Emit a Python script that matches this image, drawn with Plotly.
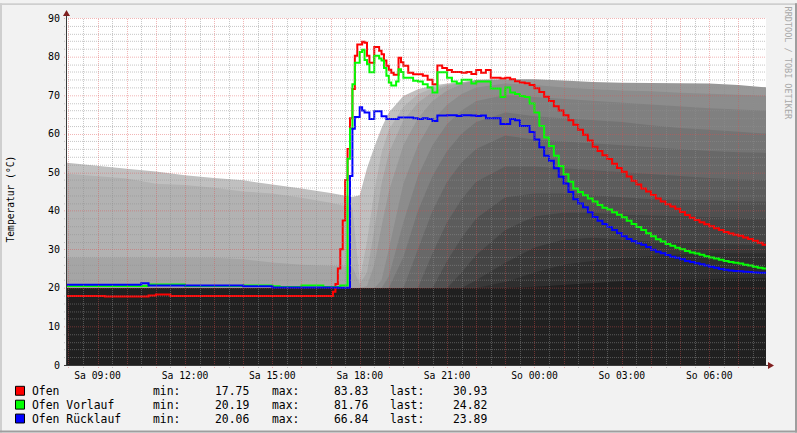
import plotly.graph_objects as go

FONT = "DejaVu Sans Mono"

# ---------------- data ----------------
x_range = [7.95, 31.95]                      # hours since Sa 00:00
tick_hours = [9, 12, 15, 18, 21, 24, 27, 30]
tick_labels = ["Sa 09:00", "Sa 12:00", "Sa 15:00", "Sa 18:00",
               "Sa 21:00", "So 00:00", "So 03:00", "So 06:00"]
y_ticks = [0, 10, 20, 30, 40, 50, 60, 70, 80, 90]

# time axis of the three measured lines (15 min, then 5 min, then 10 min)
line_hours = ([7.75 + 0.25 * i for i in range(37)] +
              [17.0 + i / 12 for i in range(30)] +
              [19.5 + i / 6 for i in range(76)])

ofen_day = [17.9, 17.9, 17.9, 17.9, 17.9, 17.9, 17.75, 17.75, 17.75, 17.75, 17.75, 17.75,
            18.0, 18.3, 18.3, 17.9, 17.9, 17.9, 17.9, 17.9, 17.9, 17.9, 17.9, 17.9, 17.9,
            17.9, 17.9, 17.9, 17.9, 17.9, 17.9, 17.9, 17.9, 17.9, 17.9, 17.9, 17.9]
ofen_heat = [17.9, 19.0, 21.0, 25.0, 30.0, 37.5, 48.0, 56.0, 64.0, 71.6, 80.2, 83.1, 83.1,
             83.83, 83.6, 80.2, 78.4, 78.4, 82.5, 82.5, 81.5, 80.6, 79.0, 77.6, 76.6, 75.8,
             75.3, 75.3, 79.7, 78.5]
ofen_night = [77.6, 75.8, 75.4, 75.4, 75.0, 74.0, 72.8, 77.7, 77.0, 76.5, 76.0, 76.0, 75.8,
              76.0, 75.5, 76.5, 75.8, 76.5, 74.5, 74.5, 74.3, 74.5, 74.1, 73.6, 73.3, 73.1,
              72.6, 71.8, 70.8, 69.6, 68.5, 67.1, 66.0, 64.8, 63.5, 62.3, 61.0, 59.7, 58.2,
              56.6, 55.5, 54.4, 53.4, 52.2, 51.1, 50.1, 48.9, 47.8, 46.8, 45.8, 45.0, 44.1,
              43.2, 42.4, 41.7, 41.1, 40.5, 39.7, 38.9, 38.2, 37.6, 37.0, 36.5, 36.0, 35.5,
              35.0, 34.5, 34.1, 33.8, 33.5, 33.1, 32.7, 32.2, 31.7, 31.2, 30.93]

vorlauf_day = [20.5, 20.5, 20.5, 20.5, 20.5, 20.5, 20.5, 20.5, 20.5, 20.5, 20.5, 20.5,
               20.9, 20.9, 20.9, 20.9, 20.9, 20.5, 20.5, 20.5, 20.5, 20.5, 20.5, 20.5, 20.5,
               20.6, 20.6, 20.6, 20.6, 20.4, 20.2, 20.2, 20.2, 20.6, 20.6, 20.6, 20.2]
vorlauf_heat = [20.2, 20.2, 20.2, 20.2, 20.6, 20.6, 20.6, 53.5, 61.3, 72.8, 78.4, 78.4, 81.2,
                81.76, 79.1, 78.0, 75.9, 75.9, 80.2, 80.2, 79.5, 79.0, 77.0, 75.0, 73.3, 72.5,
                72.5, 73.5, 76.7, 76.0]
vorlauf_night = [74.5, 74.5, 73.7, 73.5, 72.8, 72.0, 70.7, 75.9, 75.9, 74.5, 73.5, 73.0, 74.0,
                 74.0, 73.0, 73.5, 73.5, 73.5, 71.7, 71.7, 69.5, 72.0, 70.7, 70.3, 69.8, 69.5,
                 67.8, 65.5, 62.0, 59.0, 56.8, 54.3, 51.6, 49.5, 47.5, 45.8, 44.9, 44.0, 43.2,
                 42.4, 41.5, 40.8, 40.3, 39.6, 39.0, 38.3, 37.4, 36.6, 35.8, 35.0, 34.2, 33.4,
                 32.6, 32.0, 31.4, 30.9, 30.4, 30.0, 29.6, 29.2, 28.9, 28.6, 28.2, 27.9, 27.6,
                 27.3, 27.0, 26.7, 26.5, 26.3, 26.0, 25.8, 25.5, 25.2, 25.0, 24.82]

ruecklauf_day = [20.8, 20.8, 20.8, 20.8, 20.8, 20.8, 20.8, 20.8, 20.8, 20.8, 20.8, 21.2,
                 20.6, 20.6, 20.6, 20.6, 20.6, 20.6, 20.6, 20.6, 20.6, 20.6, 20.6, 20.6, 20.6,
                 20.4, 20.4, 20.4, 20.4, 20.1, 20.1, 20.1, 20.1, 20.1, 20.1, 20.1, 20.1]
ruecklauf_heat = [20.1, 20.1, 20.1, 20.06, 20.06, 20.06, 20.06, 20.06, 49.0, 61.3, 64.3, 64.3,
                  66.84, 66.0, 65.5, 65.5, 63.8, 63.8, 65.8, 65.8, 65.8, 64.5, 64.5, 63.8, 63.8,
                  63.8, 63.8, 63.8, 64.2, 64.2]
ruecklauf_night = [64.2, 64.2, 64.0, 63.8, 64.0, 63.8, 63.3, 64.7, 64.7, 64.8, 64.8, 64.6, 64.8,
                   64.8, 64.7, 64.6, 64.7, 64.0, 64.0, 64.0, 62.5, 62.5, 63.8, 63.5, 62.0, 62.0,
                   60.4, 58.5, 56.5, 54.3, 53.0, 51.0, 48.8, 47.1, 44.9, 43.0, 41.9, 40.9, 39.6,
                   38.4, 37.4, 36.6, 35.8, 35.0, 34.2, 33.4, 32.7, 32.1, 31.6, 31.2, 30.6, 29.9,
                   29.4, 29.0, 28.5, 28.1, 27.8, 27.4, 27.0, 26.7, 26.4, 26.1, 25.8, 25.5, 25.2,
                   24.9, 24.7, 24.5, 24.4, 24.3, 24.2, 24.1, 24.0, 23.95, 23.9, 23.89]

# buffer tank layers (drawn light -> dark, each filled down to zero)
tank_hours = [7.75, 9, 10, 11, 12, 13, 14, 15, 16, 17, 17.5, 17.75, 18.0, 18.25, 18.5, 18.75,
              19.0, 19.5, 20, 20.5, 21, 21.5, 22, 23, 24, 25, 26, 27, 28, 29, 30, 31, 32]
tank_colors = ["#c0c0c0", "#b2b2b2", "#a5a5a5", "#989898", "#8c8c8c", "#808080", "#747474",
               "#686868", "#5c5c5c", "#505050", "#444444", "#383838", "#2e2e2e", "#202020"]
tank_1 = [52.6, 51.6, 50.9, 50.2, 49.2, 48.5, 47.9, 46.8, 45.8, 44.6, 43.9, 43.6, 44.0, 51.0,
          56.5, 61.5, 65.5, 69.8, 71.5, 72.5, 73.0, 73.4, 73.8, 73.6, 73.6, 73.4, 73.0, 72.8,
          72.6, 72.6, 72.6, 72.2, 71.7]
tank_2 = [49.7, 48.9, 48.4, 47.0, 46.7, 46.0, 45.0, 44.5, 43.4, 42.1, 41.3, 40.8, 22.0, 32.0,
          45.0, 55.0, 61.0, 67.0, 70.2, 71.8, 72.8, 73.3, 73.8, 73.6, 73.6, 73.4, 73.0, 72.8,
          72.6, 72.6, 72.6, 72.2, 71.7]
tank_3 = [27.8, 27.8, 27.8, 27.8, 27.8, 27.8, 27.4, 26.6, 26.0, 25.7, 25.6, 25.5, 21.0, 24.0,
          35.0, 47.0, 55.0, 63.5, 68.0, 70.8, 72.4, 73.2, 73.8, 73.6, 73.6, 73.4, 73.0, 72.8,
          72.6, 72.6, 72.6, 72.2, 71.7]
tank_4 = [20.0, 20.0, 20.0, 20.0, 20.0, 20.0, 20.0, 20.0, 20.0, 20.0, 20.0, 20.0, 20.0, 20.5,
          26.0, 36.0, 45.0, 57.0, 64.0, 68.5, 71.2, 72.8, 74.0, 74.1, 74.1, 73.8, 73.4, 73.2,
          73.1, 73.0, 73.0, 72.6, 72.0]
tank_5 = [20.0, 20.0, 20.0, 20.0, 20.0, 20.0, 20.0, 20.0, 20.0, 20.0, 20.0, 20.0, 20.0, 20.0,
          20.0, 22.0, 30.0, 47.0, 57.0, 63.5, 67.5, 70.3, 72.0, 73.0, 72.6, 72.0, 71.5, 71.2,
          71.0, 70.6, 70.4, 70.1, 69.8]
tank_6 = [20.0, 20.0, 20.0, 20.0, 20.0, 20.0, 20.0, 20.0, 20.0, 20.0, 20.0, 20.0, 20.0, 20.0,
          20.0, 20.0, 23.0, 37.0, 49.0, 57.0, 62.5, 66.0, 68.5, 70.0, 69.5, 69.0, 68.5, 68.0,
          67.5, 67.0, 66.6, 66.3, 66.0]
tank_7 = [20.0, 20.0, 20.0, 20.0, 20.0, 20.0, 20.0, 20.0, 20.0, 20.0, 20.0, 20.0, 20.0, 20.0,
          20.0, 20.0, 20.0, 28.0, 40.0, 49.0, 55.5, 60.0, 63.0, 65.5, 64.5, 64.0, 63.5, 63.0,
          62.2, 61.5, 61.0, 60.5, 60.0]
tank_8 = [20.0, 20.0, 20.0, 20.0, 20.0, 20.0, 20.0, 20.0, 20.0, 20.0, 20.0, 20.0, 20.0, 20.0,
          20.0, 20.0, 20.0, 20.0, 30.0, 40.0, 47.5, 52.5, 56.0, 59.5, 58.5, 58.0, 57.5, 57.0,
          56.5, 56.0, 55.5, 55.2, 55.0]
tank_9 = [20.0, 20.0, 20.0, 20.0, 20.0, 20.0, 20.0, 20.0, 20.0, 20.0, 20.0, 20.0, 20.0, 20.0,
          20.0, 20.0, 20.0, 20.0, 20.0, 29.0, 37.0, 43.0, 47.5, 51.5, 51.5, 51.0, 50.5, 50.0,
          49.5, 49.0, 48.5, 48.2, 48.0]
tank_10 = [20.0, 20.0, 20.0, 20.0, 20.0, 20.0, 20.0, 20.0, 20.0, 20.0, 20.0, 20.0, 20.0, 20.0,
           20.0, 20.0, 20.0, 20.0, 20.0, 20.0, 27.0, 33.0, 38.0, 43.5, 44.5, 44.5, 44.0, 43.5,
           43.0, 42.8, 42.6, 42.5, 42.4]
tank_11 = [20.0, 20.0, 20.0, 20.0, 20.0, 20.0, 20.0, 20.0, 20.0, 20.0, 20.0, 20.0, 20.0, 20.0,
           20.0, 20.0, 20.0, 20.0, 20.0, 20.0, 20.0, 24.0, 28.5, 35.0, 38.5, 39.5, 39.5, 39.0,
           38.8, 38.5, 38.3, 38.1, 38.0]
tank_12 = [20.0, 20.0, 20.0, 20.0, 20.0, 20.0, 20.0, 20.0, 20.0, 20.0, 20.0, 20.0, 20.0, 20.0,
           20.0, 20.0, 20.0, 20.0, 20.0, 20.0, 20.0, 20.0, 22.0, 26.5, 30.5, 32.5, 33.0, 32.5,
           32.0, 31.7, 31.5, 31.2, 31.0]
tank_13 = [20.0, 20.0, 20.0, 20.0, 20.0, 20.0, 20.0, 20.0, 20.0, 20.0, 20.0, 20.0, 20.0, 20.0,
           20.0, 20.0, 20.0, 20.0, 20.0, 20.0, 20.0, 20.0, 20.0, 21.5, 24.0, 26.0, 27.0, 27.8,
           28.3, 28.7, 29.0, 29.0, 29.0]
tank_14 = [20.0, 20.0, 20.0, 20.0, 20.0, 20.0, 20.0, 20.0, 20.0, 20.0, 20.0, 20.0, 20.0, 20.0,
           20.0, 20.0, 20.0, 20.0, 20.0, 20.0, 20.0, 20.0, 20.0, 20.0, 20.3, 20.8, 21.3, 21.7,
           22.0, 22.2, 22.4, 22.5, 22.6]
tank_layers = [tank_1, tank_2, tank_3, tank_4, tank_5, tank_6, tank_7, tank_8, tank_9,
               tank_10, tank_11, tank_12, tank_13, tank_14]

legend_names = ["Ofen", "Ofen Vorlauf", "Ofen Rücklauf"]
legend_colors = ["#ff0000", "#00ff00", "#0000ff"]
legend_min = ["17.75", "20.19", "20.06"]
legend_max = ["83.83", "81.76", "66.84"]
legend_last = ["30.93", "24.82", "23.89"]

# ---------------- layout helpers ----------------
W, H = 797, 433
L, R, T, B = 67, 766, 15, 365


def px(xpix):
    return (xpix - L) / (R - L)


def py(ypix):
    return (B - ypix) / (B - T)


def hour_to_pix(hr):
    return L + (hr - x_range[0]) / (x_range[1] - x_range[0]) * (R - L)


def val_to_pix(v):
    return B - v / 90.0 * (B - T)


fig = go.Figure()

for vals, col in zip(tank_layers, tank_colors):
    fig.add_trace(go.Scatter(x=tank_hours, y=vals, mode="lines", fill="tozeroy",
                             fillcolor=col, line=dict(width=0, color=col),
                             hoverinfo="skip", showlegend=False))

series = [ofen_day + ofen_heat + ofen_night,
          vorlauf_day + vorlauf_heat + vorlauf_night,
          ruecklauf_day + ruecklauf_heat + ruecklauf_night]
for vals, col, name in zip(series, legend_colors, legend_names):
    assert len(vals) == len(line_hours)
    fig.add_trace(go.Scatter(x=line_hours, y=vals, mode="lines", name=name,
                             line=dict(color=col, width=2, shape="hv"),
                             showlegend=False))

MINOR = "rgba(143,143,143,0.5)"
MAJOR = "rgba(222,79,79,0.42)"
shapes = []
# grid drawn on top like rrdtool, snapped to pixel centres, a few px longer as ticks
h = 8.0
while h <= x_range[1]:
    major = abs(h - round(h)) < 1e-9
    xc = round(hour_to_pix(h)) + 0.5
    shapes.append(dict(type="line", xref="paper", yref="paper", x0=px(xc), x1=px(xc),
                       y0=py(B + 3), y1=1, layer="above",
                       line=dict(color=MAJOR if major else MINOR, width=1, dash="1px,1px")))
    h += 0.5
for v in range(2, 91, 2):
    major = v % 10 == 0
    yc = round(val_to_pix(v)) + 0.5
    shapes.append(dict(type="line", xref="paper", yref="paper", x0=px(L - 3), x1=1,
                       y0=py(yc), y1=py(yc), layer="above",
                       line=dict(color=MAJOR if major else MINOR, width=1, dash="1px,1px")))

# axes with arrows
AX = "#3a3a3a"
shapes.append(dict(type="line", xref="paper", yref="paper", x0=px(66.5), x1=px(66.5),
                   y0=py(B + 0.5), y1=py(10), layer="above", line=dict(color=AX, width=1)))
shapes.append(dict(type="line", xref="paper", yref="paper", x0=px(L - 3), x1=px(769),
                   y0=py(365.5), y1=py(365.5), layer="above", line=dict(color=AX, width=1)))
shapes.append(dict(type="path", xref="paper", yref="paper", layer="above",
                   path=f"M {px(66.5)},{py(7)} L {px(63)},{py(13)} L {px(70)},{py(13)} Z",
                   fillcolor="#801f1f", line=dict(width=0)))
shapes.append(dict(type="path", xref="paper", yref="paper", layer="above",
                   path=f"M {px(774)},{py(365.5)} L {px(768)},{py(362)} L {px(768)},{py(369)} Z",
                   fillcolor="#801f1f", line=dict(width=0)))

# outer 3D frame
shapes.append(dict(type="rect", xref="paper", yref="paper", x0=px(0), x1=px(W), y0=py(0), y1=py(2),
                   fillcolor="#cfcfcf", line=dict(width=0)))
shapes.append(dict(type="rect", xref="paper", yref="paper", x0=px(0), x1=px(2), y0=py(0), y1=py(H),
                   fillcolor="#cfcfcf", line=dict(width=0)))
shapes.append(dict(type="rect", xref="paper", yref="paper", x0=px(0), x1=px(W), y0=py(H - 2), y1=py(H),
                   fillcolor="#9e9e9e", line=dict(width=0)))
shapes.append(dict(type="rect", xref="paper", yref="paper", x0=px(W - 2), x1=px(W), y0=py(0), y1=py(H),
                   fillcolor="#9e9e9e", line=dict(width=0)))

annotations = []
row_y = [391, 405, 419]
for i, (name, col) in enumerate(zip(legend_names, legend_colors)):
    yc = row_y[i]
    shapes.append(dict(type="rect", xref="paper", yref="paper",
                       x0=px(15.5), x1=px(24.5), y0=py(yc - 4.5), y1=py(yc + 4.5),
                       fillcolor=col, line=dict(color="#000000", width=1)))
    lf = dict(family=FONT, size=11.4, color="#000000")
    annotations.append(dict(text=name, x=px(30), y=py(yc), xref="paper", yref="paper",
                            xanchor="left", yanchor="middle", showarrow=False, font=lf))
    annotations.append(dict(text="min:", x=px(151), y=py(yc), xref="paper", yref="paper",
                            xanchor="left", yanchor="middle", showarrow=False, font=lf))
    annotations.append(dict(text=legend_min[i], x=px(251), y=py(yc), xref="paper", yref="paper",
                            xanchor="right", yanchor="middle", showarrow=False, font=lf))
    annotations.append(dict(text="max:", x=px(270), y=py(yc), xref="paper", yref="paper",
                            xanchor="left", yanchor="middle", showarrow=False, font=lf))
    annotations.append(dict(text=legend_max[i], x=px(370), y=py(yc), xref="paper", yref="paper",
                            xanchor="right", yanchor="middle", showarrow=False, font=lf))
    annotations.append(dict(text="last:", x=px(388), y=py(yc), xref="paper", yref="paper",
                            xanchor="left", yanchor="middle", showarrow=False, font=lf))
    annotations.append(dict(text=legend_last[i], x=px(489), y=py(yc), xref="paper", yref="paper",
                            xanchor="right", yanchor="middle", showarrow=False, font=lf))

annotations.append(dict(text="Temperatur (°C)", x=px(10), y=py(198), xref="paper", yref="paper",
                        textangle=-90, showarrow=False, xanchor="center", yanchor="middle",
                        font=dict(family=FONT, size=9.6, color="#000000")))
annotations.append(dict(text="RRDTOOL / TOBI OETIKER", x=px(788), y=py(61), xref="paper",
                        yref="paper", textangle=90, showarrow=False, xanchor="center",
                        yanchor="middle", font=dict(family=FONT, size=8.5, color="#a8a8a8")))

fig.update_layout(
    width=W, height=H,
    margin=dict(l=L, r=W - R, t=T, b=H - B, pad=0),
    paper_bgcolor="#f2f2f2", plot_bgcolor="#ffffff",
    shapes=shapes, annotations=annotations,
    xaxis=dict(range=x_range, tickvals=tick_hours, ticktext=tick_labels, showgrid=False,
               zeroline=False, showline=False, ticks="outside", ticklen=1,
               tickcolor="rgba(0,0,0,0)",
               tickfont=dict(family=FONT, size=9.7, color="#000000")),
    yaxis=dict(range=[0, 90], tickvals=y_ticks, showgrid=False, zeroline=False,
               showline=False, ticks="outside", ticklen=4, tickcolor="rgba(0,0,0,0)",
               tickfont=dict(family=FONT, size=10, color="#000000")),
    showlegend=False,
)

fig.write_html("out.html", config={"displayModeBar": False},
               post_script="document.body.style.margin='0';document.body.style.padding='0';")
